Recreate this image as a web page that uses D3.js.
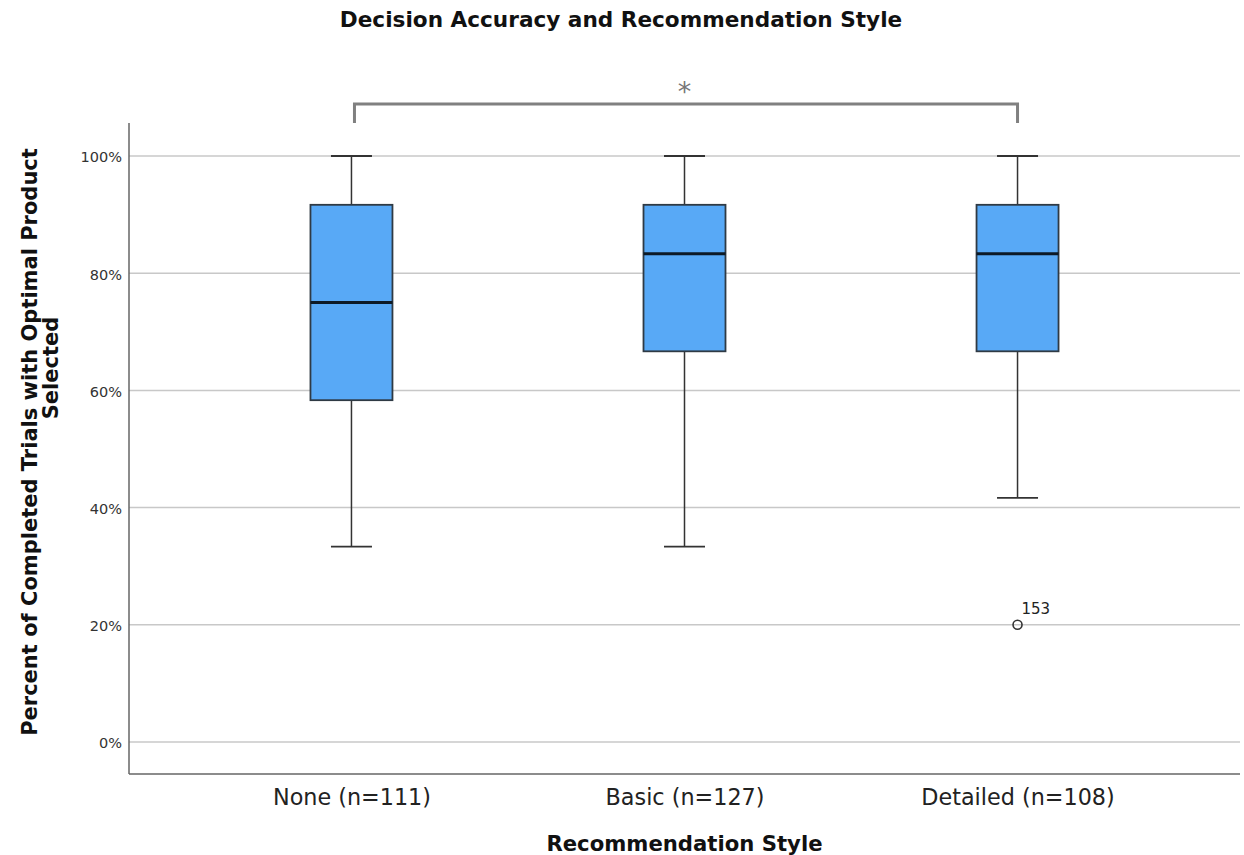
<!DOCTYPE html>
<html>
<head>
<meta charset="utf-8">
<script src="https://cdn.jsdelivr.net/npm/d3@7"></script>
<style>
  html, body { margin: 0; padding: 0; background: #fff; }
  svg { display: block; }
  text { font-family: "DejaVu Sans", "Noto Sans", sans-serif; }
</style>
</head>
<body>
<svg id="chart" width="1244" height="855"></svg>
<script>
// Recommendation style groups and their five-number summaries (percent)
const categories = ["None (n=111)", "Basic (n=127)", "Detailed (n=108)"];
const whiskerLow = [33.33, 33.33, 41.67];
const quartile1  = [58.33, 66.67, 66.67];
const medians    = [75.0, 83.33, 83.33];
const quartile3  = [91.67, 91.67, 91.67];
const whiskerHigh = [100, 100, 100];
// Outliers: group index, value, case id
const outliers = [{ group: 2, value: 20, id: "153" }];
const yTicks = [0, 20, 40, 60, 80, 100];
// Significant pairwise comparison (group indices)
const significance = [{ from: 0, to: 2, label: "*" }];

const svg = d3.select("#chart");
const plotLeft = 129, plotRight = 1240, plotTop = 123, plotBottom = 774;

const x = d3.scalePoint().domain(categories).range([plotLeft, plotRight]).padding(0.668);
const y = d3.scaleLinear().domain([0, 100]).range([742, 156]);

// Title
svg.append("text")
  .attr("x", 621).attr("y", 27)
  .attr("text-anchor", "middle")
  .attr("font-weight", "bold").attr("font-size", 21.6)
  .attr("fill", "#111")
  .text("Decision Accuracy and Recommendation Style");

// Gridlines
svg.append("g")
  .selectAll("line").data(yTicks).join("line")
  .attr("x1", plotLeft).attr("x2", plotRight)
  .attr("y1", d => y(d)).attr("y2", d => y(d))
  .attr("stroke", "#c8c8c8").attr("stroke-width", 1.5);

// Y axis
const yAxis = svg.append("g")
  .attr("transform", `translate(${plotLeft},0)`)
  .call(d3.axisLeft(y).tickValues(yTicks).tickSize(0).tickPadding(7).tickFormat(d => d + "%"));
yAxis.select(".domain").remove();
yAxis.selectAll("text").attr("font-size", 14.5).attr("fill", "#333").attr("dy", "0.4em")
  .attr("font-family", "DejaVu Sans, sans-serif");

// Axis frame lines
svg.append("line").attr("x1", plotLeft).attr("x2", plotLeft).attr("y1", plotTop).attr("y2", plotBottom)
  .attr("stroke", "#666").attr("stroke-width", 1.5);
svg.append("line").attr("x1", plotLeft).attr("x2", plotRight).attr("y1", plotBottom).attr("y2", plotBottom)
  .attr("stroke", "#666").attr("stroke-width", 1.5);

// X axis labels
const xAxis = svg.append("g")
  .attr("transform", `translate(0,${plotBottom})`)
  .call(d3.axisBottom(x).tickSize(0).tickPadding(14));
xAxis.select(".domain").remove();
xAxis.selectAll("text").attr("font-size", 22.3).attr("fill", "#222")
  .attr("dy", null).attr("y", 31)
  .attr("font-family", "DejaVu Sans, sans-serif");

// Axis titles
svg.append("text")
  .attr("x", x(categories[1])).attr("y", 851)
  .attr("text-anchor", "middle")
  .attr("font-weight", "bold").attr("font-size", 21.2).attr("fill", "#111")
  .text("Recommendation Style");

const yTitle = svg.append("g").attr("transform", "rotate(-90)");
yTitle.append("text")
  .attr("x", -442).attr("y", 37)
  .attr("text-anchor", "middle")
  .attr("font-weight", "bold").attr("font-size", 21).attr("fill", "#111")
  .text("Percent of Completed Trials with Optimal Product");
yTitle.append("text")
  .attr("x", -368).attr("y", 58)
  .attr("text-anchor", "middle")
  .attr("font-weight", "bold").attr("font-size", 21).attr("fill", "#111")
  .text("Selected");

// Box plots
const boxW = 82, capW = 41;
const groups = svg.append("g").selectAll("g").data(categories).join("g");

groups.append("line")
  .attr("x1", d => x(d)).attr("x2", d => x(d))
  .attr("y1", (d, i) => y(whiskerLow[i])).attr("y2", (d, i) => y(whiskerHigh[i]))
  .attr("stroke", "#333").attr("stroke-width", 1.5);
groups.append("line")
  .attr("x1", d => x(d) - capW / 2).attr("x2", d => x(d) + capW / 2)
  .attr("y1", (d, i) => y(whiskerHigh[i])).attr("y2", (d, i) => y(whiskerHigh[i]))
  .attr("stroke", "#333").attr("stroke-width", 1.8);
groups.append("line")
  .attr("x1", d => x(d) - capW / 2).attr("x2", d => x(d) + capW / 2)
  .attr("y1", (d, i) => y(whiskerLow[i])).attr("y2", (d, i) => y(whiskerLow[i]))
  .attr("stroke", "#333").attr("stroke-width", 1.8);
groups.append("rect")
  .attr("x", d => x(d) - boxW / 2).attr("width", boxW)
  .attr("y", (d, i) => y(quartile3[i]))
  .attr("height", (d, i) => y(quartile1[i]) - y(quartile3[i]))
  .attr("fill", "#58a9f6").attr("stroke", "#2f3a44").attr("stroke-width", 1.8);
groups.append("line")
  .attr("x1", d => x(d) - boxW / 2).attr("x2", d => x(d) + boxW / 2)
  .attr("y1", (d, i) => y(medians[i])).attr("y2", (d, i) => y(medians[i]))
  .attr("stroke", "#0d1a26").attr("stroke-width", 3);

// Outliers
const out = svg.append("g").selectAll("g").data(outliers).join("g");
out.append("circle")
  .attr("cx", d => x(categories[d.group])).attr("cy", d => y(d.value))
  .attr("r", 4.5).attr("fill", "none").attr("stroke", "#333").attr("stroke-width", 1.6);
out.append("text")
  .attr("x", d => x(categories[d.group]) + 4).attr("y", d => y(d.value) - 11)
  .attr("font-size", 15).attr("fill", "#222")
  .text(d => d.id);

// Significance bracket
const br = svg.append("g").selectAll("g").data(significance).join("g");
br.append("path")
  .attr("d", d => {
    const x0 = x(categories[d.from]) + 3, x1 = x(categories[d.to]);
    return `M${x0},123 V104 H${x1} V123`;
  })
  .attr("fill", "none").attr("stroke", "#808080").attr("stroke-width", 3);
br.append("text")
  .attr("x", d => (x(categories[d.from]) + x(categories[d.to])) / 2).attr("y", 101)
  .attr("text-anchor", "middle").attr("font-size", 27).attr("fill", "#777")
  .text(d => d.label);
</script>
</body>
</html>
